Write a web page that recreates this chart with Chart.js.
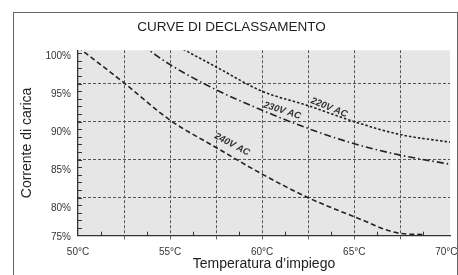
<!DOCTYPE html>
<html>
<head>
<meta charset="utf-8">
<script src="https://cdn.jsdelivr.net/npm/chart.js@4.4.1/dist/chart.umd.min.js"></script>
<style>
  html, body { margin: 0; padding: 0; background: #fff; }
  #wrap { position: relative; width: 458px; height: 275px; overflow: hidden; }
  #frame { position: absolute; left: 13px; top: 12px; width: 445px; height: 300px; border: 1px solid #666; box-sizing: border-box; }
  #chart { position: absolute; left: 0; top: 0; }
</style>
</head>
<body>
<div id="wrap">
  <div id="frame"></div>
  <canvas id="chart" width="458" height="275"></canvas>
</div>
<script>
// derating curves
var temp220 = [55.5, 57.5, 60, 62.5, 65, 67.5, 70.2];
var load220 = [99.8, 97.2, 94.0, 92.1, 90.0, 88.3, 87.3];

var temp230 = [53.5, 55, 57.5, 60, 62.5, 65, 67.5, 70.2];
var load230 = [100.0, 97.5, 94.2, 91.5, 89.1, 87.1, 85.6, 84.4];

var temp240 = [50, 52.5, 55, 57.5, 60, 62.5, 65, 67.5, 68.8];
var load240 = [99.8, 95.1, 90.2, 86.6, 83.1, 80.0, 77.5, 75.3, 75.15];

var yTicks = [75, 80, 85, 90, 95, 100];
var xMin = 50, xMax = 70.2;
var yMin = 75, yMax = 99.4;

// the % labels sit a little below their grid lines in the original
var labelShift = 1.45;

Chart.defaults.font.family = '"Liberation Sans", Arial, Helvetica, sans-serif';
Chart.defaults.color = '#333';

function pts(ts, ps) {
    return ts.map(function (t, i) { return {x: t, y: ps[i]}; });
}

var curveTags = [
    {t: 63.64, p: 91.85, angle: 22},
    {t: 61.09, p: 91.45, angle: 18},
    {t: 58.37, p: 87.0, angle: 28}
];

var plotStyle = {
    id: 'plotStyle',
    beforeDraw: function (chart) {
        var a = chart.chartArea, ctx = chart.ctx;
        ctx.save();
        ctx.fillStyle = '#e6e6e7';
        ctx.fillRect(a.left, a.top, a.right - a.left, a.bottom - a.top);
        ctx.restore();
    },
    afterDraw: function (chart) {
        var xs = chart.scales.x, ys = chart.scales.y, ctx = chart.ctx;
        ctx.save();
        // small inward ticks
        ctx.strokeStyle = '#333';
        ctx.lineWidth = 1;
        ctx.beginPath();
        for (var t = xMin + 1.25; t < 70; t += 2.5) {
            var px = Math.round(xs.getPixelForValue(t)) + 0.5;
            ctx.moveTo(px, ys.bottom);
            ctx.lineTo(px, ys.bottom - 4);
        }
        for (var p = yMin + 1; p < yMax; p++) {
            var py = Math.round(ys.getPixelForValue(p)) + 0.5;
            ctx.moveTo(xs.left, py);
            ctx.lineTo(xs.left + 4, py);
        }
        ctx.stroke();

        // curve names
        ctx.fillStyle = '#333';
        ctx.font = 'italic bold 9.5px "Liberation Sans", Arial, sans-serif';
        ctx.textAlign = 'center';
        ctx.textBaseline = 'middle';
        chart.data.datasets.forEach(function (ds, i) {
            var tag = curveTags[i];
            ctx.save();
            ctx.translate(xs.getPixelForValue(tag.t), ys.getPixelForValue(tag.p));
            ctx.rotate(tag.angle * Math.PI / 180);
            ctx.fillText(ds.label, 0, 0);
            ctx.restore();
        });
        ctx.restore();
    }
};

new Chart(document.getElementById('chart'), {
    type: 'line',
    data: {
        datasets: [{
                label: '220V AC',
                data: pts(temp220, load220),
                borderDash: [2.5, 2]
            },
            {
                label: '230V AC',
                data: pts(temp230, load230),
                borderDash: [7, 3, 1.5, 3]
            },
            {
                label: '240V AC',
                data: pts(temp240, load240),
                borderDash: [5, 3]
            }
        ]
    },
    options: {
        responsive: false,
        animation: false,
        events: [],
        layout: {
            padding: {left: 13, right: 8, top: 0, bottom: 0}
        },
        elements: {
            line: {
                borderColor: '#222',
                borderWidth: 1.6,
                fill: false,
                cubicInterpolationMode: 'monotone'
            },
            point: {radius: 0}
        },
        plugins: {
            legend: {display: false},
            tooltip: {enabled: false},
            title: {
                display: true,
                text: 'CURVE DI DECLASSAMENTO',
                color: '#222',
                font: {size: 13.5, weight: 'normal'},
                padding: {top: 19, bottom: 15}
            }
        },
        scales: {
            x: {
                type: 'linear',
                min: xMin,
                max: xMax,
                afterFit: function (scale) {
                    scale.height = 39.3;
                    scale.paddingRight = 0;
                },
                ticks: {
                    stepSize: 2.5,
                    includeBounds: false,
                    autoSkip: false,
                    maxRotation: 0,
                    padding: 7,
                    font: {size: 10},
                    callback: function (v) {
                        return v % 5 === 0 ? v + '°C' : '';
                    }
                },
                grid: {
                    color: function (c) {
                        var v = c.tick.value;
                        return (v <= xMin || v >= 70) ? 'rgba(0,0,0,0)' : '#555';
                    },
                    tickBorderDash: [3, 2],
                    tickLength: 4,
                    lineWidth: 1
                },
                border: {display: true, color: '#333', width: 1.3, dash: [3, 2]},
                title: {
                    display: true,
                    text: 'Temperatura d\u2019impiego',
                    color: '#222',
                    font: {size: 14},
                    padding: {top: 0, bottom: 2}
                }
            },
            y: {
                type: 'linear',
                position: 'left',
                min: yMin,
                max: yMax,
                afterFit: function (scale) {
                    scale.width = 65;
                },
                afterBuildTicks: function (scale) {
                    scale.ticks = yTicks.map(function (v) {
                        return {value: v === yTicks[0] ? v - 0.15 : v - labelShift};
                    });
                },
                ticks: {
                    autoSkip: false,
                    padding: 7,
                    font: {size: 10},
                    callback: function (v) {
                        return Math.round(v / 5) * 5 + '%';
                    }
                },
                grid: {drawOnChartArea: false, drawTicks: false},
                border: {display: true, color: '#333', width: 1.3},
                title: {
                    display: true,
                    text: 'Corrente di carica',
                    color: '#222',
                    font: {size: 14},
                    padding: {top: 6, bottom: 0}
                }
            },
            yGrid: {
                type: 'linear',
                position: 'right',
                min: yMin,
                max: yMax,
                afterFit: function (scale) {
                    scale.width = 0;
                },
                ticks: {display: false, stepSize: 5, includeBounds: false},
                grid: {
                    color: function (c) {
                        return c.tick.value <= yMin ? 'rgba(0,0,0,0)' : '#555';
                    },
                    drawTicks: false,
                    lineWidth: 1
                },
                border: {display: false, dash: [3, 2]}
            }
        }
    },
    plugins: [plotStyle]
});
</script>
</body>
</html>
